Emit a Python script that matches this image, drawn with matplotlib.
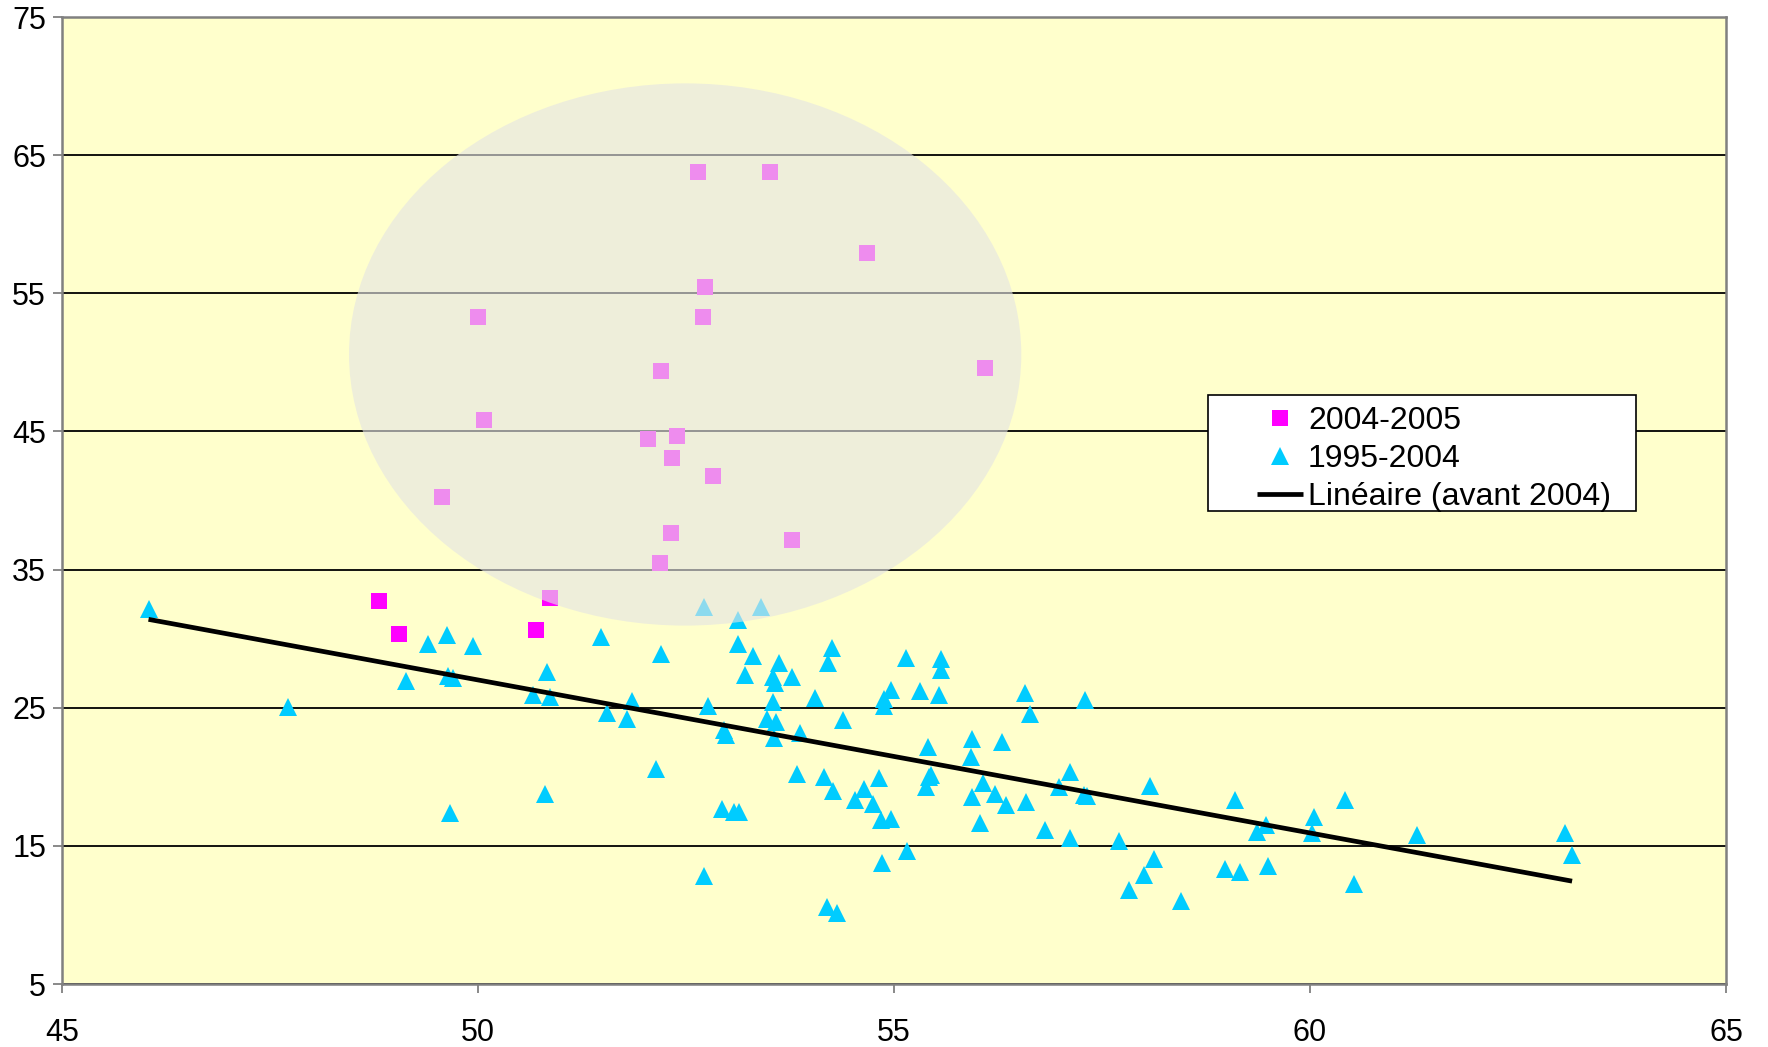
import numpy as np
import matplotlib.pyplot as plt
from matplotlib.patches import Ellipse, Rectangle

plt.rcParams['font.family'] = ['Liberation Sans', 'DejaVu Sans']

# 2004-2005 points (squares)
recent_x = [52.65, 53.51, 54.68, 52.73, 50.00, 52.71, 52.20, 56.09, 50.07,
            52.04, 52.39, 52.33, 52.83, 49.57, 52.32, 53.77, 52.19, 50.87,
            48.81, 49.05, 50.70]
recent_y = [63.78, 63.78, 57.92, 55.43, 53.28, 53.28, 49.37, 49.60, 45.85,
            44.47, 44.69, 43.08, 41.75, 40.27, 37.67, 37.16, 35.50, 32.96,
            32.72, 30.33, 30.62]

# 1995-2004 points (triangles)
early_x = [46.04, 47.72, 49.13, 49.40, 49.63, 49.94, 49.64, 49.70, 50.83, 50.66,
           50.87, 51.48, 49.66, 50.81, 52.20, 53.12, 53.31, 53.21, 53.62, 53.55,
           53.57, 54.26, 54.21, 53.77, 54.05, 53.54, 52.77, 51.85, 51.55, 51.79,
           52.96, 52.98, 53.47, 53.58, 53.56, 53.87, 54.39, 54.96, 54.88, 54.88,
           52.14, 53.83, 54.16, 54.27, 54.53, 54.64, 54.82, 54.75, 52.93, 53.08,
           53.14, 55.14, 55.56, 55.56, 55.31, 55.54, 55.41, 55.94, 55.93, 55.45,
           55.42, 55.38, 55.94, 54.84, 54.96, 56.58, 57.29, 56.63, 56.30, 56.07,
           56.21, 56.35, 56.59, 57.12, 56.98, 57.28, 57.32, 58.08, 59.10, 56.03,
           56.82, 60.42, 60.05, 59.47, 52.72, 54.85, 55.16, 54.20, 54.32, 57.11,
           57.71, 58.13, 58.00, 57.82, 60.02, 59.36, 61.29, 63.07, 63.15, 58.45,
           58.98, 59.16, 59.50, 60.53, 52.72, 53.40, 53.13]
early_y = [32.14, 25.07, 26.91, 29.58, 30.26, 29.47, 27.32, 27.17, 27.58, 25.90,
           25.80, 30.14, 17.40, 18.75, 28.89, 29.59, 28.72, 27.35, 28.26, 27.24,
           26.77, 29.34, 28.21, 27.19, 25.67, 25.38, 25.14, 25.46, 24.64, 24.16,
           23.36, 23.05, 24.16, 23.99, 22.78, 23.14, 24.11, 26.28, 25.60, 25.10,
           20.54, 20.22, 20.02, 18.96, 18.30, 19.11, 19.89, 18.06, 17.70, 17.47,
           17.47, 28.58, 28.50, 27.73, 26.23, 25.92, 22.18, 22.73, 21.41, 20.13,
           19.96, 19.24, 18.56, 16.87, 16.96, 26.04, 25.56, 24.52, 22.54, 19.52,
           18.75, 17.96, 18.20, 20.37, 19.24, 18.65, 18.60, 19.30, 18.32, 16.69,
           16.15, 18.32, 17.10, 16.51, 12.82, 13.73, 14.65, 10.55, 10.11, 15.54,
           15.37, 14.02, 12.92, 11.80, 15.95, 16.02, 15.79, 15.91, 14.34, 11.03,
           13.32, 13.13, 13.57, 12.24, 32.30, 32.30, 31.35]

# linear trend of the 1995-2004 series
trend_slope = -1.1076
trend_intercept = 82.39

# highlighted region
zone_center = (52.49, 50.57)
zone_width = 8.08
zone_height = 39.25

x_ticks = [45, 50, 55, 60, 65]
y_ticks = [5, 15, 25, 35, 45, 55, 65, 75]
labels = ['2004-2005', '1995-2004', 'Linéaire (avant 2004)']

W, H = 1768, 1047
fig = plt.figure(figsize=(W / 100, H / 100), dpi=100)
ax = fig.add_axes([62 / W, 1 - 984 / H, 1664 / W, 967 / H])
ax.set_facecolor('#FFFFCC')

ax.set_xlim(45, 65)
ax.set_ylim(5, 75)
ax.set_xticks(x_ticks)
ax.set_yticks(y_ticks)
ax.yaxis.grid(True, color='black', linewidth=1.3)
ax.set_axisbelow(True)

for s in ax.spines.values():
    s.set_color('#808080')
    s.set_linewidth(1.8)
ax.tick_params(axis='both', direction='out', length=6.5, width=1.3,
               color='#808080', labelsize=22)
ax.tick_params(axis='x', pad=18)
ax.tick_params(axis='y', pad=5)

sq, = ax.plot(recent_x, recent_y, 's', color='#FF00FF', ms=12, mew=0, zorder=3)
tri, = ax.plot(early_x, early_y, '^', color='#00CCFF', ms=13, mew=0, zorder=3)

tx = np.array([min(early_x), max(early_x)])
trend, = ax.plot(tx, trend_slope * tx + trend_intercept, color='black',
                 lw=3.4, solid_capstyle='butt', zorder=3.5)

zone = Ellipse(zone_center, zone_width, zone_height, facecolor='#E4E4E4',
               edgecolor='none', alpha=0.62, zorder=4)
ax.add_patch(zone)

# legend box drawn by hand, Excel style
box = Rectangle((0.6887, 0.4891), 0.2572, 0.12, transform=ax.transAxes,
                facecolor='white', edgecolor='black', lw=1.2, zorder=5)
ax.add_patch(box)
leg = ax.legend([sq, tri, trend], labels, loc='upper left',
                bbox_to_anchor=(0.7181, 0.598), frameon=False, fontsize=23,
                borderpad=0, borderaxespad=0, labelspacing=0.26,
                handlelength=1.45, handletextpad=0.15, numpoints=1)
leg.set_zorder(6)

fig.savefig('out.png', dpi=100)
